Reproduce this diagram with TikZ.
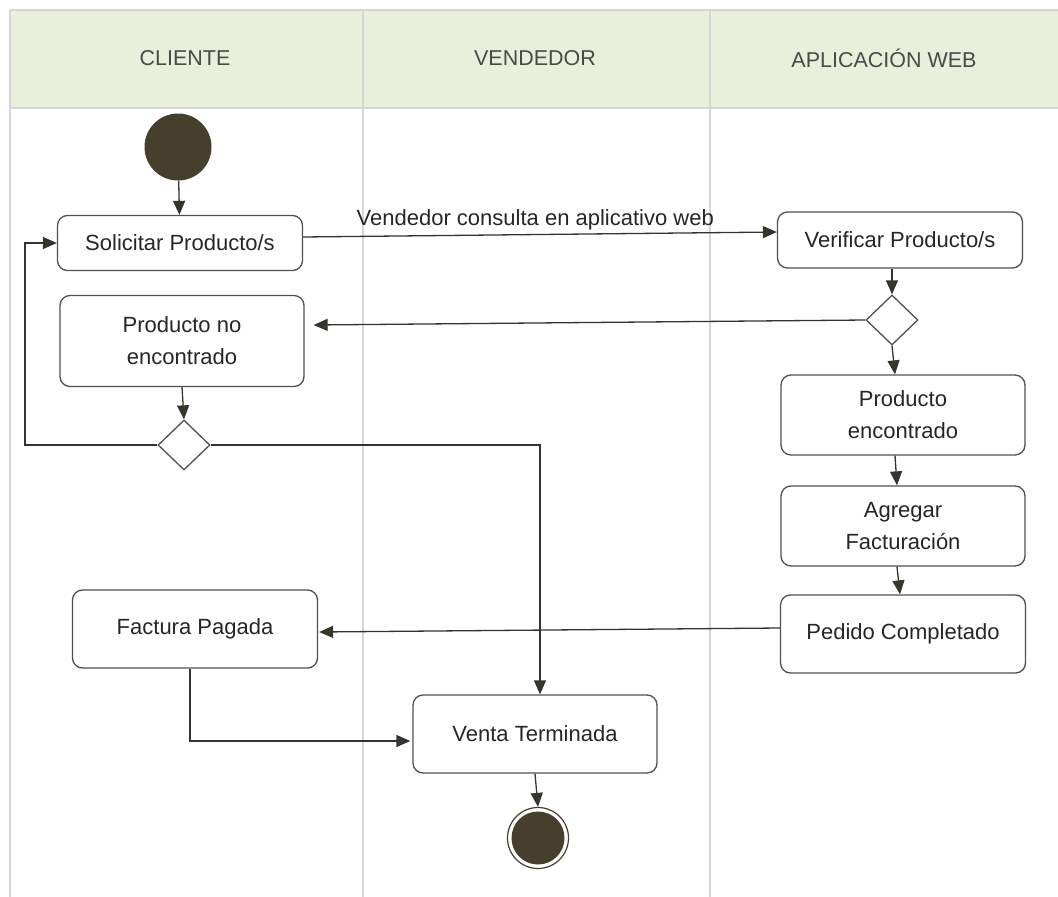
\documentclass[tikz,border=0pt]{standalone}
\usepackage{fontspec}
\setmainfont{Liberation Sans}
\usetikzlibrary{shapes.geometric,arrows.meta}

\definecolor{headfill}{HTML}{E8F0DB}
\definecolor{laneline}{HTML}{D6D6D6}
\definecolor{headtext}{HTML}{4A4A4A}
\definecolor{boxline}{HTML}{505050}
\definecolor{flowline}{HTML}{333333}
\definecolor{tipfill}{HTML}{3A3628}
\definecolor{dot}{HTML}{463F2C}

\tikzset{
  lane/.style={draw=laneline, line width=1.4pt},
  lanehead/.style={font=\fontsize{21.5}{24}\selectfont, text=headtext},
  action/.style={draw=boxline, line width=1.3pt, rounded corners=10pt, fill=white,
    align=center, text=black!85, font=\fontsize{22}{32}\selectfont, inner sep=0pt},
  choice/.style={draw=boxline, line width=1.3pt, diamond, fill=white,
    minimum width=52pt, minimum height=50pt, inner sep=0pt},
  flow/.style={draw=flowline, line width=1.3pt,
    -{Triangle[length=14pt,width=12pt,fill=tipfill]}},
  flowlabel/.style={font=\fontsize{22}{26}\selectfont, text=black!85},
}

\begin{document}
\begin{tikzpicture}[x=1pt, y=-1pt]
  \useasboundingbox (0,0) rectangle (1058,897);
  \fill[white] (0,0) rectangle (1058,897);

  % swimlane header band and lane separators
  \fill[headfill] (10,10) rectangle (1058,108);
  \draw[lane] (10,10) -- (1058,10);
  \draw[lane] (10,108) -- (1058,108);
  \draw[lane] (10,10) -- (10,897);
  \draw[lane] (363,10) -- (363,897);
  \draw[lane] (710,10) -- (710,897);

  \node[lanehead] (hcli) at (185,58) {CLIENTE};
  \node[lanehead] (hven) at (535,58) {VENDEDOR};
  \node[lanehead] (hweb) at (884,58) {APLICACIÓN WEB};

  % start and end states
  \node[circle, fill=dot, minimum size=67pt, inner sep=0pt] (start) at (178,147) {};
  \node[circle, draw=dot, line width=1.2pt, minimum size=61pt, inner sep=0pt] (endring) at (538,838) {};
  \node[circle, fill=dot, minimum size=53pt, inner sep=0pt] (end) at (538,838) {};

  % activities
  \node[action, minimum width=245pt, minimum height=55pt] (sol) at (180,243) {Solicitar Producto/s};
  \node[action, minimum width=245pt, minimum height=56pt] (ver) at (900,240) {Verificar Producto/s};
  \node[action, minimum width=244pt, minimum height=91pt] (noenc) at (182,341) {Producto no\\encontrado};
  \node[action, minimum width=244pt, minimum height=80pt] (enc) at (903,415) {Producto\\encontrado};
  \node[action, minimum width=244pt, minimum height=80pt] (agr) at (903,526) {Agregar\\Facturación};
  \node[action, minimum width=245pt, minimum height=78pt] (ped) at (903,634) {Pedido Completado};
  \node[action, minimum width=245pt, minimum height=78pt] (fac) at (195,629) {Factura Pagada};
  \node[action, minimum width=244pt, minimum height=78pt] (venta) at (535,734) {Venta Terminada};

  % decisions
  \node[choice] (d1) at (892,320) {};
  \node[choice] (d2) at (184,445) {};

  \coordinate (loop) at (25,445);

  % flows
  \draw[flow] (start) -- (sol);
  \draw[flow] ([yshift=6pt]sol.east) -- node[flowlabel, above, pos=0.49, yshift=1pt] (lbl) {Vendedor consulta en aplicativo web} ([yshift=8pt]ver.west);
  \draw[flow] (ver.south -| d1.north) -- (d1.north);
  \draw[flow] (d1.west) -- ([xshift=9pt,yshift=16pt]noenc.east);
  \draw[flow] (d1.south) -- ([xshift=-8pt]enc.north);
  \draw[flow] ([xshift=-8pt]enc.south) -- ([xshift=-6pt]agr.north);
  \draw[flow] ([xshift=-6pt]agr.south) -- ([xshift=-3pt]ped.north);
  \draw[flow] ([yshift=6pt]ped.west) -- ([xshift=1pt,yshift=-3pt]fac.east);
  \draw[flow] (noenc.south) -- (d2.north);
  \draw[flow] (d2.west) -- (loop) |- (sol.west);
  \draw[flow] (d2.east) -| ([xshift=5pt]venta.north);
  \draw[flow] ([xshift=-5pt]fac.south) |- ([xshift=-2pt,yshift=-7pt]venta.west);
  \draw[flow] (venta.south) -- (endring.north);
\end{tikzpicture}
\end{document}
